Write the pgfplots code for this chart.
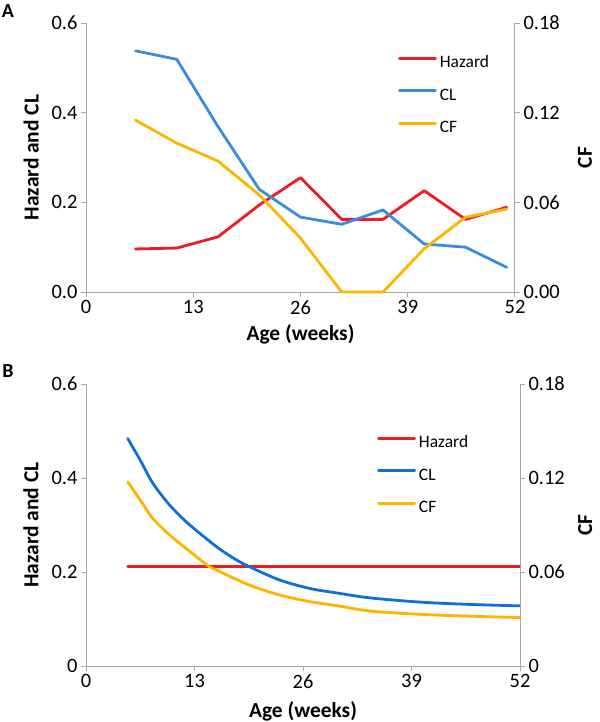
\documentclass[border=0pt]{standalone}
\usepackage{fontspec}
\setmainfont{Carlito}
\usepackage{pgfplots}
\pgfplotsset{compat=1.18}
\definecolor{hz}{RGB}{237,28,36}
\definecolor{clA}{RGB}{58,141,222}
\definecolor{clB}{RGB}{16,112,216}
\definecolor{cfc}{RGB}{255,180,0}
\definecolor{axg}{RGB}{160,172,172}
\pgfplotsset{
  base/.style={
    scale only axis, xmin=0, xmax=52, ymin=0,
    axis line style={draw=axg, line width=1bp, -},
    tick style={draw=axg, line width=1bp},
    tick align=outside, major tick length=5bp,
    ticklabel style={font=\fontsize{20.5}{24}\selectfont},
    label style={font=\bfseries\fontsize{21.5}{25}\selectfont, text depth=0pt, inner sep=0pt},
    clip=false,
  },
  leftax/.style={base,
    axis x line*=bottom, axis y line*=left,
    xtick={0,13,26,39,52}, xticklabels={0,13,26,39,52},
    ymax=0.6, ytick={0,0.2,0.4,0.6},
    xlabel={Age (weeks)}, ylabel={Hazard and CL},
  },
  rightax/.style={base,
    axis y line*=right, hide x axis,
    ymax=0.18, ytick={0,0.06,0.12,0.18},
    ylabel={CF},
    legend image code/.code={\draw[##1] (0bp,5.5bp) -- (36bp,5.5bp);},
    legend style={draw=none, fill=none, inner sep=0pt, row sep=16.5bp,
      font=\fontsize{17.5}{20}\selectfont,
      nodes={inner sep=0pt, text height=12bp, text depth=4bp},
      column sep=3bp},
    legend cell align=left,
  },
  ln/.style={line width=2.8bp, line join=round, line cap=round},
}
\begin{document}
\begin{tikzpicture}
\useasboundingbox (0,0) rectangle (600bp,-722bp);
% ---------------- Panel A ----------------
\begin{axis}[leftax, at={(86bp,-292bp)}, anchor=south west, width=429bp, height=269bp,
  yticklabels={0.0,0.2,0.4,0.6},
  xlabel style={at={(axis description cs:0.5,-0.152)}, anchor=center},
  ylabel style={at={(axis description cs:-0.128,0.5)}, anchor=center}]
\addplot[ln, hz] coordinates {(6,0.096) (11,0.098) (16,0.123) (21,0.194) (26,0.255) (31,0.162) (36,0.162) (41,0.226) (46,0.162) (51,0.189)};
\addplot[ln, clA] coordinates {(6,0.538) (11,0.519) (16,0.369) (21,0.229) (26,0.167) (31,0.151) (36,0.183) (41,0.107) (46,0.100) (51,0.055)};
\end{axis}
\begin{axis}[rightax, at={(86bp,-292bp)}, anchor=south west, width=429bp, height=269bp,
  yticklabels={0.00,0.06,0.12,0.18},
  ylabel style={at={(axis description cs:1.163,0.5)}, anchor=center},
  legend style={at={(axis description cs:0.727,0.879)}, anchor=north west}]
\addlegendimage{ln, hz}\addlegendentry{Hazard}
\addlegendimage{ln, clA}\addlegendentry{CL}
\addplot[ln, cfc] coordinates {(6,0.115) (11,0.0996) (16,0.0876) (21,0.065) (26,0.036) (31,0) (36,0) (41,0.029) (46,0.050) (51,0.0555)};
\addlegendentry{CF}
\end{axis}
% ---------------- Panel B ----------------
\begin{axis}[leftax, at={(86bp,-666bp)}, anchor=south west, width=434bp, height=282bp,
  yticklabels={0,0.2,0.4,0.6},
  xlabel style={at={(axis description cs:0.5,-0.156)}, anchor=center},
  ylabel style={at={(axis description cs:-0.127,0.5)}, anchor=center}]
\addplot[ln, hz] coordinates {(5,0.211) (52,0.211)};
\addplot[ln, clB, smooth, tension=0.5] coordinates {(5,0.484) (6.5,0.438) (8,0.389) (10,0.343) (12,0.307) (14,0.277) (16,0.249) (18,0.226) (19.6,0.211) (23.2,0.183) (26.8,0.165) (30.2,0.155) (34,0.145) (40,0.136) (46,0.131) (52,0.128)};
\end{axis}
\begin{axis}[rightax, at={(86bp,-666bp)}, anchor=south west, width=434bp, height=282bp,
  yticklabels={0,0.06,0.12,0.18},
  ylabel style={at={(axis description cs:1.1498,0.5)}, anchor=center},
  legend style={at={(axis description cs:0.6705,0.817)}, anchor=north west}]
\addlegendimage{ln, hz}\addlegendentry{Hazard}
\addlegendimage{ln, clB}\addlegendentry{CL}
\addplot[ln, cfc, smooth, tension=0.5] coordinates {(5,0.1176) (6.5,0.1059) (8,0.0942) (10,0.0837) (12,0.0750) (14.8,0.0633) (16,0.0603) (19.6,0.0516) (23.2,0.0453) (26.8,0.0411) (30.2,0.0384) (34,0.0351) (40,0.0330) (46,0.0318) (52,0.0309)};
\addlegendentry{CF}
\end{axis}
\node[font=\bfseries\fontsize{20}{24}\selectfont] at (8bp,-11bp) {A};
\node[font=\bfseries\fontsize{20}{24}\selectfont] at (8bp,-371bp) {B};
\end{tikzpicture}
\end{document}
